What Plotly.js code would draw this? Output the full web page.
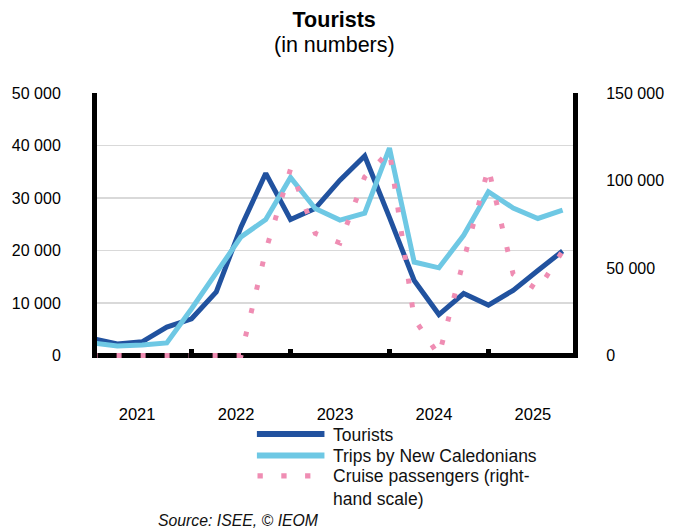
<!DOCTYPE html>
<html>
<head>
<meta charset="utf-8">
<script src="https://cdn.plot.ly/plotly-3.0.1.min.js"></script>
<style>
  html, body { margin: 0; padding: 0; background: #fff; }
  #chart { width: 673px; height: 529px; }
</style>
</head>
<body>
<div id="chart"></div>
<script>
// ---- Data ----
const periods = ['2021-Q1','2021-Q2','2021-Q3','2021-Q4',
                 '2022-Q1','2022-Q2','2022-Q3','2022-Q4',
                 '2023-Q1','2023-Q2','2023-Q3','2023-Q4',
                 '2024-Q1','2024-Q2','2024-Q3','2024-Q4',
                 '2025-Q1','2025-Q2','2025-Q3','2025-Q4'];
const tourists = [3200, 2200, 2600, 5400, 7000, 12100, 24500, 34700, 25900, 28000,
                  33400, 38000, 26300, 14300, 7800, 11800, 9600, 12400, 16200, 19900];
const tripsNC  = [2400, 1800, 2000, 2400, 8900, 15900, 22600, 25900, 33900, 28000,
                  25800, 27100, 39500, 17800, 16700, 22900, 31200, 28100, 26100, 27700];
const cruise   = [0, 0, 0, 0, 0, 0, 0, 60000, 106500, 69800,
                  64300, 102100, 116800, 21000, 0, 54400, 107200, 46500, 37500, 59700];
const years = ['2021', '2022', '2023', '2024', '2025'];
const leftTickVals  = [0, 10000, 20000, 30000, 40000, 50000];
const leftTickText  = ['0', '10 000', '20 000', '30 000', '40 000', '50 000'];
const rightTickVals = [0, 50000, 100000, 150000];
const rightTickText = ['0', '50 000', '100 000', '150 000'];
const seriesNames = ['Tourists', 'Trips by New Caledonians', 'Cruise passengers (right-<br>hand scale)'];

// ---- Layout geometry ----
const W = 673, H = 529;
const L = 96.7, R = 100, T = 93.3, B = 171;
const plotW = W - L - R, plotH = H - T - B;
const px = v => (v - L) / plotW;
const py = v => (H - B - v) / plotH;

const FONT = 'Liberation Sans, Arial, Helvetica, sans-serif';
const C_DARK = '#21529f', C_LIGHT = '#6ec8e4', C_PINK = '#ef8db3';

const xIdx = periods.map((_, i) => i);
const yearPos = years.map((_, i) => i * 4 + 1.8);
const yearBounds = years.slice(1).map((_, i) => (i + 1) * 4);

const traces = [
  { x: xIdx, y: tourists, type: 'scatter', mode: 'lines', name: 'Tourists',
    line: { color: C_DARK, width: 5 }, showlegend: false, yaxis: 'y' },
  { x: xIdx, y: tripsNC, type: 'scatter', mode: 'lines', name: 'Trips by New Caledonians',
    line: { color: C_LIGHT, width: 5 }, showlegend: false, yaxis: 'y' },
  { x: xIdx, y: cruise, type: 'scatter', mode: 'lines', name: 'Cruise passengers (right-hand scale)',
    line: { color: C_PINK, width: 5, dash: '5px,19px' }, showlegend: false, yaxis: 'y2' }
];

// custom legend (long line samples like the reference)
const legRows = [434, 455.3, 475.7];
const shapes = [
  { type: 'line', xref: 'paper', yref: 'paper', x0: px(256.7), x1: px(324.3), y0: py(legRows[0]), y1: py(legRows[0]),
    line: { color: C_DARK, width: 6 } },
  { type: 'line', xref: 'paper', yref: 'paper', x0: px(256.7), x1: px(324.3), y0: py(legRows[1]), y1: py(legRows[1]),
    line: { color: C_LIGHT, width: 6 } },
  { type: 'line', xref: 'paper', yref: 'paper', x0: px(257.3), x1: px(311), y0: py(legRows[2]), y1: py(legRows[2]),
    line: { color: C_PINK, width: 5.3, dash: '5.3px,18.5px' } }
];
const annotations = [
  { text: '(in numbers)', xref: 'paper', yref: 'paper', x: px(334.2), y: py(45.5), xanchor: 'center', yanchor: 'middle',
    showarrow: false, font: { family: FONT, size: 21.5, color: '#000' } },
  { text: seriesNames[0], xref: 'paper', yref: 'paper', x: px(331), y: py(434.5), xanchor: 'left', yanchor: 'middle',
    showarrow: false, font: { family: FONT, size: 17.5, color: '#111' } },
  { text: seriesNames[1], xref: 'paper', yref: 'paper', x: px(331), y: py(455.5), xanchor: 'left', yanchor: 'middle',
    showarrow: false, font: { family: FONT, size: 17.5, color: '#111' } },
  { text: seriesNames[2], xref: 'paper', yref: 'paper', x: px(331), y: py(487), xanchor: 'left', yanchor: 'middle', align: 'left',
    showarrow: false, font: { family: FONT, size: 17.5, color: '#111' } },
  { text: '<i>Source: ISEE, © IEOM</i>', xref: 'paper', yref: 'paper', x: px(155.5), y: py(520), xanchor: 'left', yanchor: 'middle',
    showarrow: false, font: { family: FONT, size: 15.8, color: '#111' } }
];

const layout = {
  width: W, height: H,
  margin: { l: L, r: R, t: T, b: B, pad: 0 },
  paper_bgcolor: '#fff', plot_bgcolor: '#fff',
  font: { family: FONT, color: '#000' },
  title: {
    text: '<b>Tourists</b>',
    x: 334.2 / W, xref: 'container', xanchor: 'center',
    y: 1 - 12 / H, yref: 'container', yanchor: 'top',
    font: { family: FONT, size: 21.5, color: '#000' }
  },
  showlegend: false,
  xaxis: {
    range: [0.178, 19.42],
    showgrid: false, zeroline: false, showline: false,
    tickmode: 'array', tickvals: yearPos, ticktext: years,
    ticks: '', ticklabelstandoff: 44,
    tickfont: { family: FONT, size: 16.5, color: '#000' },
    minor: { tickmode: 'array', tickvals: yearBounds, ticks: 'inside', ticklen: 9, tickwidth: 5, tickcolor: '#000', showgrid: false },
    fixedrange: true
  },
  yaxis: {
    range: [-477, 50000],
    tickmode: 'array', tickvals: leftTickVals, ticktext: leftTickText,
    showgrid: true, gridcolor: '#d9d9d9', gridwidth: 1.5,
    zeroline: true, zerolinecolor: '#000', zerolinewidth: 5,
    showline: true, linecolor: '#000', linewidth: 5,
    ticks: '', ticklabelstandoff: 28,
    tickfont: { family: FONT, size: 16, color: '#000' },
    fixedrange: true
  },
  yaxis2: {
    range: [-1431, 150000], overlaying: 'y', side: 'right',
    tickmode: 'array', tickvals: rightTickVals, ticktext: rightTickText,
    showgrid: false, zeroline: false,
    showline: true, linecolor: '#000', linewidth: 5,
    ticks: '', ticklabelstandoff: 25,
    tickfont: { family: FONT, size: 16, color: '#000' },
    fixedrange: true
  },
  shapes: shapes,
  annotations: annotations
};

Plotly.newPlot('chart', traces, layout, { displayModeBar: false, staticPlot: true });
</script>
</body>
</html>
